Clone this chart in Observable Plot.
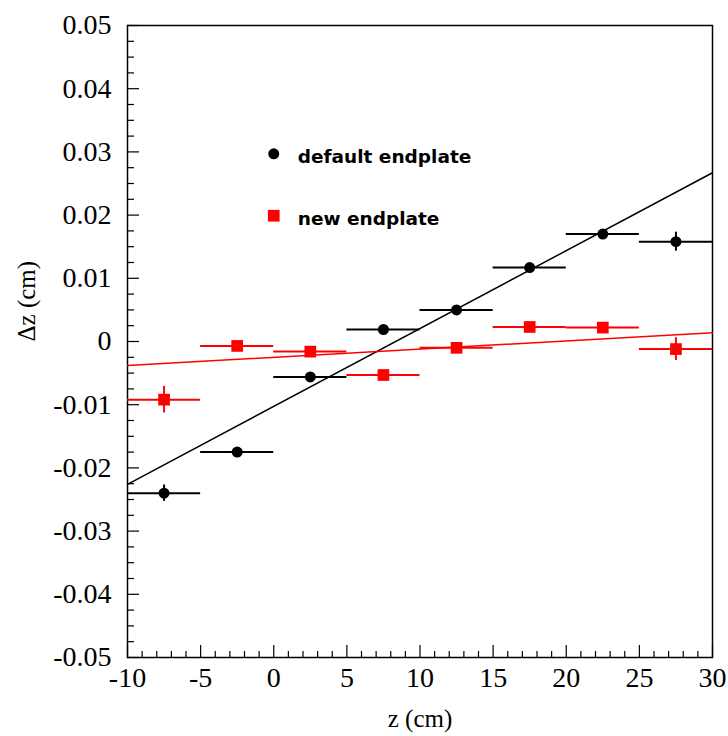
<!DOCTYPE html>
<html><head><meta charset="utf-8">
<script src="https://cdn.jsdelivr.net/npm/d3@7"></script>
<script src="https://cdn.jsdelivr.net/npm/@observablehq/plot@0.6"></script>
<style>
body{margin:0;background:#fff}
svg text.tk{font-family:'Liberation Serif','Times New Roman',serif !important;font-size:28px !important;font-variant:normal !important}
</style>
</head><body><div id="chart"></div>
<script>
// Data
const zCenters = [-7.5, -2.5, 2.5, 7.5, 12.5, 17.5, 22.5, 27.5];
const binHalfWidth = 2.5;
const defaultDz  = [-0.0240, -0.0175, -0.0056, 0.0019, 0.0050, 0.0117, 0.0170, 0.0158];
const defaultErr = [0.0013, 0.0004, 0.0004, 0.0004, 0.0004, 0.0005, 0.0007, 0.0015];
const newDz  = [-0.0092, -0.0007, -0.0016, -0.0053, -0.0010, 0.0023, 0.0022, -0.0012];
const newErr = [0.0021, 0.0004, 0.0004, 0.0004, 0.0004, 0.0006, 0.0007, 0.0018];
const fitZ = [-10, 30];
const defaultFitDz = [-0.0226, 0.0267];
const newFitDz = [-0.0038, 0.0014];
const seriesNames = ["default endplate", "new endplate"];
const legendZ = 0;
const legendDz = [0.0297, 0.0199];
const xMajorTicks = d3.range(-10, 31, 5);
const xMinorTicks = d3.range(-10, 31, 1).filter(v => v % 5 !== 0);
const yMajorTicks = d3.range(-5, 6, 1).map(v => v / 100);
const yMinorTicks = d3.range(-50, 51, 2.5).filter(v => v % 10 !== 0).map(v => v / 1000);

const W = 728, H = 736;
const mL = 127, mR = 16, mT = 25, mB = 79;
const pw = W - mL - mR, ph = H - mT - mB;

const defaultRows = zCenters.map((z, i) => ({z, dz: defaultDz[i], e: defaultErr[i]}));
const newRows = zCenters.map((z, i) => ({z, dz: newDz[i], e: newErr[i]}));
const defaultFit = fitZ.map((z, i) => ({z, dz: defaultFitDz[i]}));
const newFit = fitZ.map((z, i) => ({z, dz: newFitDz[i]}));

const red = "#ff0000";
const serif = "'Liberation Serif', 'Times New Roman', serif";
const legendFont = "'DejaVu Sans', sans-serif";

const chart = Plot.plot({
  width: W, height: H,
  marginLeft: mL, marginRight: mR, marginTop: mT, marginBottom: mB,
  style: {fontFamily: serif, fontSize: "25px", background: "#fff", color: "#000"},
  x: {domain: [-10, 30]},
  y: {domain: [-0.05, 0.05]},
  marks: [
    // ticks (inward)
    Plot.tickY(yMajorTicks, {y: d => d, insetRight: pw - 12, stroke: "#000", strokeWidth: 1.2}),
    Plot.tickY(yMinorTicks, {y: d => d, insetRight: pw - 7, stroke: "#000", strokeWidth: 1.2}),
    Plot.tickX(xMajorTicks, {x: d => d, insetTop: ph - 12, stroke: "#000", strokeWidth: 1.2}),
    Plot.tickX(xMinorTicks, {x: d => d, insetTop: ph - 6, stroke: "#000", strokeWidth: 1.2}),
    Plot.axisY({ticks: yMajorTicks, label: null, tickSize: 0, tickPadding: 16, fill: "#000",
      tickFormat: d => Math.abs(d) < 1e-9 ? "0" : d.toFixed(2)}),
    Plot.axisX({ticks: xMajorTicks, label: null, tickSize: 0, tickPadding: 10, fill: "#000",
      tickFormat: d => String(d)}),
    Plot.frame({stroke: "#000", strokeWidth: 1.5}),
    // fit lines
    Plot.line(defaultFit, {x: "z", y: "dz", stroke: "#000", strokeWidth: 1.5}),
    Plot.line(newFit, {x: "z", y: "dz", stroke: red, strokeWidth: 1.5}),
    // error bars
    Plot.ruleY(newRows, {y: "dz", x1: d => d.z - binHalfWidth, x2: d => d.z + binHalfWidth, stroke: red, strokeWidth: 2}),
    Plot.ruleX(newRows, {x: "z", y1: d => d.dz - d.e, y2: d => d.dz + d.e, stroke: red, strokeWidth: 2}),
    Plot.ruleY(defaultRows, {y: "dz", x1: d => d.z - binHalfWidth, x2: d => d.z + binHalfWidth, stroke: "#000", strokeWidth: 2}),
    Plot.ruleX(defaultRows, {x: "z", y1: d => d.dz - d.e, y2: d => d.dz + d.e, stroke: "#000", strokeWidth: 2}),
    // markers
    Plot.dot(newRows, {x: "z", y: "dz", symbol: "square", r: 6.6, fill: red}),
    Plot.dot(defaultRows, {x: "z", y: "dz", r: 5.5, fill: "#000"}),
    // legend
    Plot.dot([legendDz[0]], {x: () => legendZ, y: d => d, r: 5.5, fill: "#000"}),
    Plot.dot([legendDz[1]], {x: () => legendZ, y: d => d, symbol: "square", r: 6.6, fill: red}),
    Plot.text(seriesNames, {x: () => legendZ, y: (d, i) => legendDz[i], text: d => d, dx: 24, dy: 9, textAnchor: "start",
      lineAnchor: "bottom", fontFamily: legendFont, fontWeight: 700, fontSize: 18.5, fill: "#000"}),
    // axis titles
    Plot.text(["z (cm)"], {frameAnchor: "bottom", dy: 69, text: d => d, fill: "#000", fontFamily: serif, fontSize: 25}),
    Plot.text(["\u0394z (cm)"], {frameAnchor: "left", dx: -101, rotate: -90, text: d => d, fill: "#000", fontFamily: serif, fontSize: 25})
  ]
});
chart.querySelectorAll("text").forEach(t => {
  if (/^-?[0-9.]+$/.test(t.textContent.trim())) { t.classList.add("tk"); }
});
document.getElementById("chart").appendChild(chart);
</script>
</body></html>
